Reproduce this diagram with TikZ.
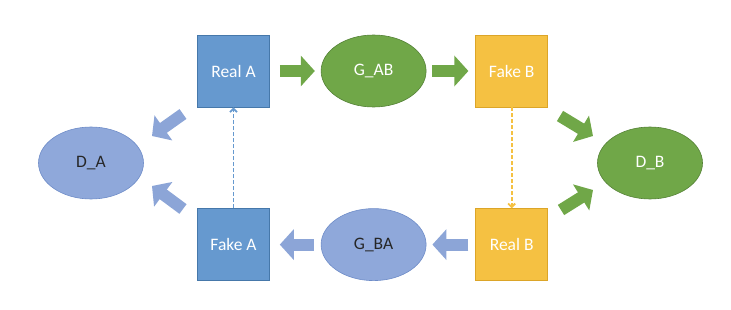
\documentclass[tikz,border=0pt]{standalone}
\usepackage{fontspec}
\setmainfont{Carlito}
\usetikzlibrary{arrows.meta,positioning,shapes.geometric}
\definecolor{boxblue}{RGB}{102,153,207}
\definecolor{boxblueline}{RGB}{70,120,170}
\definecolor{leaf}{RGB}{112,167,72}
\definecolor{leafline}{RGB}{85,130,55}
\definecolor{gold}{RGB}{245,193,66}
\definecolor{goldline}{RGB}{220,165,40}
\definecolor{lilac}{RGB}{143,168,218}
\definecolor{lilacline}{RGB}{110,140,200}
\definecolor{lilacarrow}{RGB}{140,165,215}

\begin{document}
\begin{tikzpicture}[
      x=1pt, y=-1pt, font=\fontsize{17.5}{20}\selectfont,
      sample/.style={rectangle, draw, minimum size=72pt, text=white, line width=0.6pt},
      net/.style={ellipse, draw, minimum width=105pt, minimum height=72pt, line width=0.6pt},
      flow/.style={line width=12pt, -{Triangle[length=14pt 0 0,width=30pt 0 0]}},
      cycle/.style={dash pattern=on 4pt off 2pt, line width=1.8pt,
                    -{Straight Barb[length=3.5pt,width=7pt]}},
    ]
    \useasboundingbox (0,0) rectangle (731,310);

    % top row
    \node[sample, fill=boxblue, draw=boxblueline] (realA) at (233.5,71) {Real A};
    \node[net, fill=leaf, draw=leafline, text=white, right=51pt of realA] (gab) {G\_AB};
    \node[sample, fill=gold, draw=goldline, right=49pt of gab] (fakeB) {Fake B};

    % bottom row
    \node[sample, fill=boxblue, draw=boxblueline, below=101pt of realA] (fakeA) {Fake A};
    \node[net, fill=lilac, draw=lilacline, text=black!85, right=51pt of fakeA] (gba) {G\_BA};
    \node[sample, fill=gold, draw=goldline, right=49pt of gba] (realB) {Real B};

    % discriminators
    \node[net, fill=lilac, draw=lilacline, text=black!85] (da) at (91,163) {D\_A};
    \node[net, fill=leaf, draw=leafline, text=white] (db) at (650,163) {D\_B};

    % generator arrows
    \draw[flow, leaf, shorten <=10pt, shorten >=6pt] (realA) -- (gab);
    \draw[flow, leaf, shorten <=6pt, shorten >=7pt] (gab) -- (fakeB);
    \draw[flow, lilacarrow, shorten <=7pt, shorten >=6pt] (realB) -- (gba);
    \draw[flow, lilacarrow, shorten <=7pt, shorten >=10pt] (gba) -- (fakeA);

    % discriminator inputs
    \coordinate (a1) at (183,114);
    \coordinate (a1t) at (152,136);
    \coordinate (a2) at (183,209);
    \coordinate (a2t) at (152,186);
    \coordinate (b1) at (560,116);
    \coordinate (b1t) at (593,136);
    \coordinate (b2) at (561,210);
    \coordinate (b2t) at (593,190);
    \draw[flow, lilacarrow] (a1) -- (a1t);
    \draw[flow, lilacarrow] (a2) -- (a2t);
    \draw[flow, leaf] (b1) -- (b1t);
    \draw[flow, leaf] (b2) -- (b2t);

    % cycle links
    \draw[cycle, boxblue] (fakeA) -- (realA);
    \draw[cycle, gold] (fakeB) -- (realB);
  \end{tikzpicture}
\end{document}
